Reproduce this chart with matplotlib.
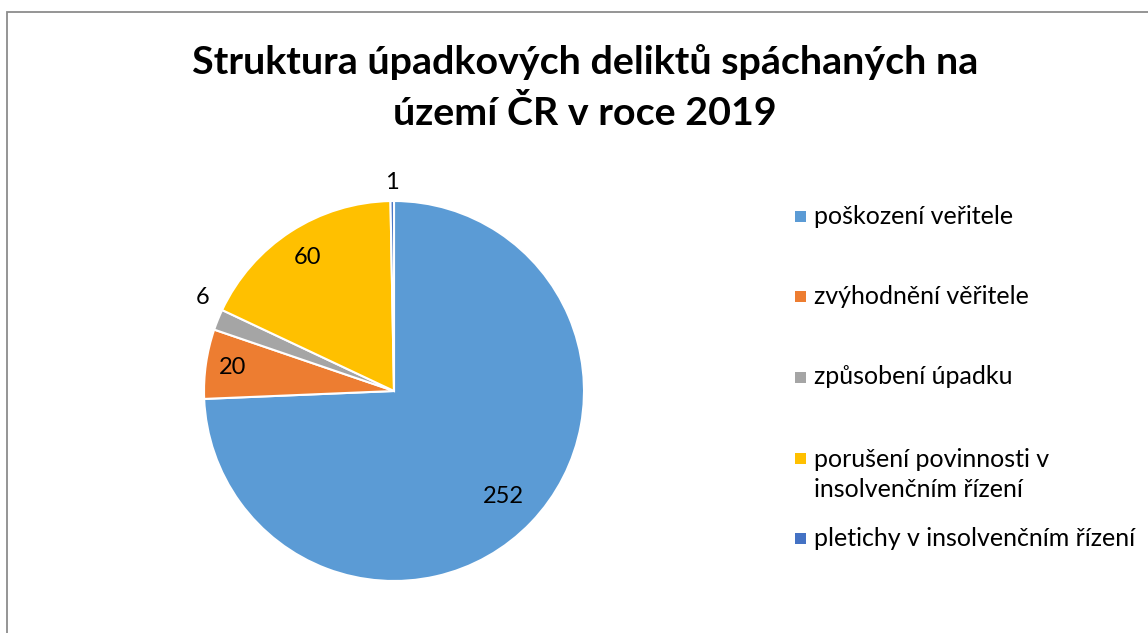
import numpy as np
import matplotlib.pyplot as plt
from matplotlib.patches import Rectangle

plt.rcParams['font.family'] = ['Lato', 'DejaVu Sans']

# data
categories = ['poškození veřitele', 'zvýhodnění věřitele', 'způsobení úpadku',
              'porušení povinnosti v\ninsolvenčním řízení',
              'pletichy v insolvenčním řízení']
values = [252, 20, 6, 60, 1]
colors = ['#5B9BD5', '#ED7D31', '#A5A5A5', '#FFC000', '#4472C4']
title_lines = ['Struktura úpadkových deliktů spáchaných na', 'území ČR v roce 2019']

W, H = 1148, 633
fig = plt.figure(figsize=(W / 100, H / 100), dpi=100)

# ramecek grafu
fig.patches.append(Rectangle((7 / W, -0.01), (W + 10) / W, (H - 12) / H + 0.01,
                             transform=fig.transFigure, fill=False,
                             edgecolor='#8C8C8C', linewidth=1.3))

# nadpis - dva radky, zarovnani na uctarii
for line, yb in zip(title_lines, [74, 125]):
    fig.text(585 / W, 1 - yb / H, line, ha='center', va='baseline',
             fontsize=28.4, fontweight='bold')

# kolac
cx, cy, r = 394, 391, 190
ax = fig.add_axes([(cx - r) / W, 1 - (cy + r) / H, 2 * r / W, 2 * r / H])
wedges, _ = ax.pie(values, colors=colors, startangle=90, counterclock=False,
                   radius=1, wedgeprops=dict(edgecolor='white', linewidth=1.5))
ax.set_xlim(-1, 1)
ax.set_ylim(-1, 1)
ax.set_aspect('equal')
ax.axis('off')

# popisky dat (uvnitr / vne)
label_r = [0.80, 0.86, 1.12, 0.835, 1.10]
label_shift = [0, 0, -4, 0, 0]
for w, v, lr, sh in zip(wedges, values, label_r, label_shift):
    ang = np.deg2rad((w.theta1 + w.theta2) / 2 + sh)
    ax.text(lr * np.cos(ang), lr * np.sin(ang), str(v), ha='center', va='center',
            fontsize=17)

# legenda
leg_y = [216, 296, 377, 458, 538]
for name, c, y in zip(categories, colors, leg_y):
    fig.patches.append(Rectangle((795 / W, 1 - (y + 6) / H), 11 / W, 11 / H,
                                 transform=fig.transFigure, facecolor=c,
                                 edgecolor='none'))
    if '\n' in name:
        fig.text(814 / W, 1 - (y - 10) / H, name, ha='left', va='top',
                 fontsize=18, linespacing=1.37)
    else:
        fig.text(814 / W, 1 - y / H, name, ha='left', va='center', fontsize=18)

fig.savefig('out.png', dpi=100)
